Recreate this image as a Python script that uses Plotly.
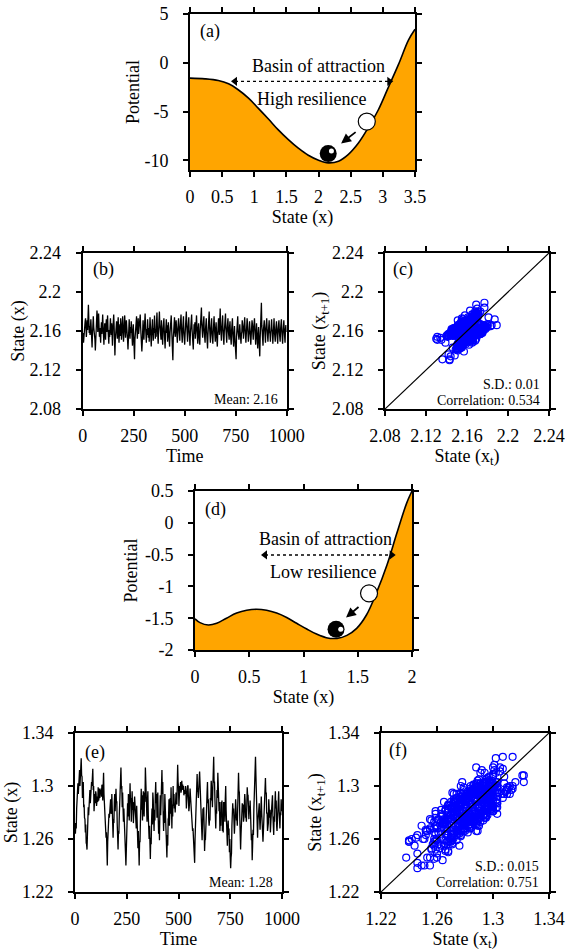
import plotly.graph_objects as go

W, H = 581, 952
FONT = "Liberation Serif, Times New Roman, Times, serif"
ORANGE = "#FFA500"
BLUE = "#0000FF"

# ---------------- data ----------------
# (a) potential, high resilience
pot_a_x = [0, 0.233, 0.44, 0.60, 0.75, 0.91, 1.06, 1.22, 1.37, 1.53, 1.68, 1.84, 2.00,
           2.15, 2.31, 2.46, 2.62, 2.77, 2.93, 3.08, 3.24, 3.40, 3.5]
pot_a_y = [-1.58, -1.65, -1.82, -2.16, -2.77, -3.63, -4.65, -5.77, -6.86, -7.89, -8.74, -9.49, -10.0,
           -10.27, -10.1, -9.42, -8.23, -6.69, -4.82, -2.6, -0.22, 2.34, 3.43]
# (d) potential, low resilience
pot_d_x = [0, 0.046, 0.123, 0.2, 0.29, 0.384, 0.476, 0.568, 0.66, 0.753, 0.845, 0.937, 1.03,
           1.12, 1.21, 1.31, 1.40, 1.49, 1.58, 1.67, 1.77, 1.86, 1.95, 2.0]
pot_d_y = [-1.51, -1.57, -1.607, -1.58, -1.50, -1.42, -1.376, -1.36, -1.376, -1.42, -1.49, -1.58, -1.67,
           -1.75, -1.806, -1.817, -1.77, -1.66, -1.45, -1.11, -0.66, -0.166, 0.306, 0.5]

# ball / arrow markers in the potential panels (data coords)
ball_a_black = [2.15, -9.32]
ball_a_white = [2.75, -6.03]
ball_a_shine = [2.20, -9.05]
arrow_a = [2.60, -7.0, 2.35, -8.27]          # tail x, tail y, head x, head y
basin_a = [0.70, 3.10, -1.9]                 # x0, x1, y
ball_d_black = [1.30, -1.675]
ball_d_white = [1.604, -1.109]
ball_d_shine = [1.343, -1.675]
arrow_d = [1.521, -1.303, 1.392, -1.49]
basin_d = [0.645, 1.813, -0.506]

# (b) time series, high resilience (every 2nd time step)
state_b = [
    2.150, 2.158, 2.148, 2.156, 2.167, 2.161, 2.170, 2.173, 2.163, 2.154, 2.162, 2.171, 2.161, 2.169, 2.187, 2.172, 2.158, 2.165, 2.156, 2.168,
    2.172, 2.162, 2.146, 2.143, 2.157, 2.166, 2.175, 2.164, 2.153, 2.161, 2.151, 2.140, 2.155, 2.168, 2.163, 2.181, 2.174, 2.159, 2.170, 2.178,
    2.165, 2.154, 2.163, 2.152, 2.148, 2.162, 2.169, 2.157, 2.166, 2.177, 2.164, 2.155, 2.146, 2.160, 2.168, 2.161, 2.151, 2.166, 2.172, 2.159,
    2.167, 2.176, 2.162, 2.153, 2.147, 2.161, 2.154, 2.164, 2.173, 2.163, 2.156, 2.168, 2.150, 2.145, 2.162, 2.171, 2.177, 2.165, 2.148, 2.135,
    2.151, 2.164, 2.157, 2.170, 2.161, 2.152, 2.166, 2.174, 2.158, 2.148, 2.157, 2.167, 2.155, 2.173, 2.166, 2.151, 2.162, 2.169, 2.175, 2.160,
    2.149, 2.157, 2.168, 2.176, 2.164, 2.153, 2.162, 2.171, 2.156, 2.165, 2.150, 2.141, 2.154, 2.163, 2.172, 2.159, 2.152, 2.164, 2.158, 2.170,
    2.163, 2.151, 2.145, 2.160, 2.167, 2.155, 2.143, 2.131, 2.151, 2.162, 2.154, 2.166, 2.175, 2.161, 2.152, 2.164, 2.173, 2.157, 2.165, 2.159,
    2.169, 2.177, 2.164, 2.152, 2.157, 2.139, 2.148, 2.163, 2.171, 2.158, 2.151, 2.161, 2.170, 2.178, 2.165, 2.154, 2.148, 2.162, 2.156, 2.172,
    2.166, 2.153, 2.163, 2.149, 2.161, 2.174, 2.165, 2.155, 2.144, 2.156, 2.167, 2.172, 2.159, 2.150, 2.163, 2.158, 2.176, 2.166, 2.152, 2.162,
    2.154, 2.169, 2.179, 2.164, 2.151, 2.147, 2.160, 2.168, 2.180, 2.167, 2.155, 2.163, 2.151, 2.171, 2.162, 2.153, 2.146, 2.161, 2.166, 2.173,
    2.160, 2.150, 2.142, 2.157, 2.165, 2.172, 2.158, 2.166, 2.149, 2.155, 2.169, 2.159, 2.152, 2.144, 2.158, 2.164, 2.171, 2.176, 2.163, 2.154,
    2.143, 2.130, 2.152, 2.162, 2.169, 2.174, 2.159, 2.154, 2.165, 2.171, 2.162, 2.156, 2.148, 2.161, 2.167, 2.173, 2.162, 2.155, 2.150, 2.164,
    2.169, 2.177, 2.163, 2.155, 2.148, 2.161, 2.168, 2.175, 2.158, 2.153, 2.146, 2.157, 2.165, 2.173, 2.180, 2.166, 2.156, 2.149, 2.162, 2.168,
    2.174, 2.159, 2.154, 2.145, 2.158, 2.166, 2.171, 2.177, 2.162, 2.155, 2.149, 2.141, 2.156, 2.167, 2.157, 2.169, 2.152, 2.161, 2.170, 2.176,
    2.162, 2.153, 2.147, 2.163, 2.168, 2.156, 2.151, 2.146, 2.161, 2.170, 2.177, 2.184, 2.166, 2.157, 2.153, 2.165, 2.170, 2.175, 2.159, 2.155,
    2.148, 2.162, 2.168, 2.173, 2.158, 2.152, 2.142, 2.156, 2.165, 2.171, 2.180, 2.164, 2.154, 2.148, 2.161, 2.169, 2.173, 2.157, 2.153, 2.147,
    2.159, 2.166, 2.175, 2.162, 2.155, 2.149, 2.163, 2.169, 2.157, 2.152, 2.144, 2.158, 2.167, 2.173, 2.161, 2.156, 2.170, 2.183, 2.165, 2.157,
    2.150, 2.163, 2.168, 2.176, 2.161, 2.153, 2.146, 2.159, 2.165, 2.171, 2.178, 2.162, 2.156, 2.148, 2.162, 2.166, 2.173, 2.160, 2.154, 2.151,
    2.164, 2.170, 2.158, 2.154, 2.146, 2.161, 2.168, 2.173, 2.157, 2.151, 2.144, 2.158, 2.165, 2.153, 2.142, 2.136, 2.131, 2.154, 2.163, 2.170,
    2.175, 2.159, 2.156, 2.151, 2.158, 2.167, 2.159, 2.153, 2.147, 2.157, 2.159, 2.171, 2.168, 2.163, 2.152, 2.158, 2.165, 2.174, 2.163, 2.156,
    2.148, 2.157, 2.162, 2.173, 2.167, 2.157, 2.149, 2.156, 2.159, 2.170, 2.163, 2.156, 2.146, 2.155, 2.162, 2.171, 2.167, 2.158, 2.151, 2.162,
    2.168, 2.173, 2.162, 2.155, 2.146, 2.158, 2.168, 2.158, 2.151, 2.142, 2.155, 2.164, 2.154, 2.144, 2.134, 2.153, 2.165, 2.177, 2.189, 2.166,
    2.160, 2.151, 2.145, 2.161, 2.168, 2.171, 2.162, 2.155, 2.148, 2.162, 2.168, 2.173, 2.162, 2.158, 2.149, 2.158, 2.163, 2.171, 2.159, 2.157,
    2.149, 2.159, 2.165, 2.172, 2.162, 2.159, 2.147, 2.156, 2.168, 2.173, 2.159, 2.156, 2.149, 2.161, 2.167, 2.170, 2.158, 2.152, 2.147, 2.162,
    2.166, 2.171, 2.159, 2.155, 2.149, 2.162, 2.167, 2.172, 2.160, 2.153, 2.147, 2.159, 2.165, 2.171, 2.160, 2.155, 2.148, 2.162, 2.166, 2.159,
]

# (e) time series, low resilience (every 2nd time step)
state_e = [
    1.272, 1.264, 1.272, 1.268, 1.283, 1.291, 1.291, 1.302, 1.294, 1.302, 1.301, 1.312, 1.300, 1.308, 1.302, 1.321, 1.308, 1.307, 1.291, 1.302,
    1.303, 1.284, 1.286, 1.276, 1.275, 1.265, 1.271, 1.257, 1.256, 1.252, 1.267, 1.271, 1.284, 1.278, 1.293, 1.290, 1.297, 1.287, 1.297, 1.297,
    1.303, 1.300, 1.307, 1.313, 1.297, 1.300, 1.281, 1.286, 1.294, 1.287, 1.296, 1.294, 1.285, 1.292, 1.292, 1.288, 1.299, 1.289, 1.291, 1.298,
    1.291, 1.297, 1.294, 1.298, 1.292, 1.301, 1.300, 1.289, 1.302, 1.310, 1.294, 1.287, 1.273, 1.277, 1.263, 1.261, 1.265, 1.255, 1.240, 1.258,
    1.268, 1.263, 1.279, 1.276, 1.287, 1.279, 1.290, 1.279, 1.281, 1.294, 1.279, 1.272, 1.261, 1.275, 1.272, 1.288, 1.294, 1.281, 1.292, 1.298,
    1.288, 1.288, 1.271, 1.259, 1.252, 1.266, 1.264, 1.278, 1.292, 1.290, 1.305, 1.314, 1.298, 1.300, 1.284, 1.295, 1.284, 1.273, 1.283, 1.269,
    1.258, 1.260, 1.249, 1.240, 1.259, 1.259, 1.276, 1.287, 1.277, 1.294, 1.287, 1.274, 1.288, 1.302, 1.288, 1.291, 1.273, 1.285, 1.296, 1.282,
    1.288, 1.272, 1.283, 1.276, 1.292, 1.286, 1.273, 1.279, 1.268, 1.285, 1.277, 1.262, 1.253, 1.266, 1.251, 1.240, 1.258, 1.258, 1.273, 1.284,
    1.298, 1.282, 1.293, 1.274, 1.284, 1.296, 1.284, 1.277, 1.295, 1.288, 1.314, 1.300, 1.302, 1.283, 1.273, 1.288, 1.296, 1.278, 1.270, 1.260,
    1.270, 1.258, 1.245, 1.261, 1.256, 1.274, 1.283, 1.271, 1.295, 1.289, 1.275, 1.266, 1.282, 1.274, 1.294, 1.303, 1.287, 1.294, 1.276, 1.288,
    1.295, 1.276, 1.264, 1.274, 1.259, 1.281, 1.293, 1.278, 1.303, 1.292, 1.312, 1.294, 1.303, 1.279, 1.266, 1.281, 1.272, 1.294, 1.285, 1.271,
    1.256, 1.253, 1.246, 1.263, 1.255, 1.275, 1.276, 1.290, 1.270, 1.279, 1.291, 1.279, 1.299, 1.283, 1.268, 1.286, 1.277, 1.300, 1.285, 1.294,
    1.283, 1.286, 1.280, 1.292, 1.295, 1.292, 1.286, 1.301, 1.316, 1.303, 1.299, 1.285, 1.297, 1.300, 1.298, 1.303, 1.295, 1.297, 1.304, 1.297,
    1.301, 1.299, 1.300, 1.293, 1.297, 1.297, 1.294, 1.300, 1.297, 1.283, 1.293, 1.289, 1.300, 1.300, 1.281, 1.281, 1.284, 1.293, 1.298, 1.292,
    1.286, 1.276, 1.279, 1.267, 1.266, 1.268, 1.258, 1.255, 1.246, 1.242, 1.260, 1.268, 1.285, 1.286, 1.300, 1.309, 1.296, 1.296, 1.291, 1.295,
    1.305, 1.311, 1.299, 1.295, 1.278, 1.275, 1.264, 1.259, 1.270, 1.283, 1.280, 1.284, 1.268, 1.251, 1.260, 1.259, 1.279, 1.276, 1.285, 1.295,
    1.303, 1.287, 1.290, 1.275, 1.270, 1.275, 1.274, 1.291, 1.289, 1.304, 1.295, 1.300, 1.284, 1.300, 1.314, 1.322, 1.303, 1.303, 1.290, 1.280,
    1.268, 1.282, 1.279, 1.297, 1.291, 1.310, 1.299, 1.300, 1.281, 1.288, 1.266, 1.273, 1.270, 1.288, 1.280, 1.289, 1.266, 1.271, 1.265, 1.288,
    1.278, 1.288, 1.273, 1.290, 1.300, 1.282, 1.270, 1.276, 1.255, 1.268, 1.274, 1.263, 1.268, 1.250, 1.260, 1.246, 1.238, 1.246, 1.249, 1.270,
    1.278, 1.287, 1.281, 1.283, 1.271, 1.264, 1.271, 1.280, 1.290, 1.283, 1.274, 1.276, 1.270, 1.284, 1.294, 1.310, 1.297, 1.295, 1.277, 1.266,
    1.252, 1.263, 1.269, 1.277, 1.287, 1.284, 1.286, 1.273, 1.276, 1.285, 1.294, 1.289, 1.276, 1.277, 1.273, 1.287, 1.299, 1.293, 1.293, 1.281,
    1.275, 1.285, 1.281, 1.289, 1.274, 1.266, 1.259, 1.264, 1.244, 1.255, 1.267, 1.263, 1.282, 1.296, 1.297, 1.307, 1.322, 1.308, 1.294, 1.283,
    1.271, 1.261, 1.274, 1.281, 1.278, 1.287, 1.275, 1.267, 1.275, 1.283, 1.292, 1.280, 1.274, 1.267, 1.258, 1.265, 1.275, 1.286, 1.283, 1.296,
    1.306, 1.294, 1.295, 1.279, 1.280, 1.266, 1.272, 1.272, 1.290, 1.284, 1.276, 1.282, 1.265, 1.272, 1.278, 1.289, 1.284, 1.293, 1.278, 1.270,
    1.263, 1.277, 1.273, 1.288, 1.296, 1.283, 1.289, 1.270, 1.266, 1.274, 1.281, 1.289, 1.296, 1.282, 1.277, 1.268, 1.280, 1.278, 1.290, 1.281,
]
time_step = 2
time_b = [i * time_step for i in range(len(state_b))]
time_e = [i * time_step for i in range(len(state_e))]

# ticks
ticks_a_x = [0, 0.5, 1, 1.5, 2, 2.5, 3, 3.5]
ticks_a_x_text = ["0", "0.5", "1", "1.5", "2", "2.5", "3", "3.5"]
ticks_a_y = [-10, -5, 0, 5]
ticks_a_y_text = ["-10", "-5", "0", "5"]
ticks_time = [0, 250, 500, 750, 1000]
ticks_time_text = ["0", "250", "500", "750", "1000"]
ticks_b = [2.08, 2.12, 2.16, 2.2, 2.24]
ticks_b_text = ["2.08", "2.12", "2.16", "2.2", "2.24"]
ticks_d_x = [0, 0.5, 1, 1.5, 2]
ticks_d_x_text = ["0", "0.5", "1", "1.5", "2"]
ticks_d_y = [-2, -1.5, -1, -0.5, 0, 0.5]
ticks_d_y_text = ["-2", "-1.5", "-1", "-0.5", "0", "0.5"]
ticks_e = [1.22, 1.26, 1.3, 1.34]
ticks_e_text = ["1.22", "1.26", "1.3", "1.34"]

range_a_x, range_a_y = [0, 3.5], [-11, 5]
range_time = [0, 1000]
range_b = [2.08, 2.24]
range_d_x, range_d_y = [0, 2], [-2, 0.5]
range_e = [1.22, 1.34]

# ---------------- layout helpers ----------------
def dx(p0, p1):
    return [p0 / W, p1 / W]

def dy(top, bottom):
    return [1 - bottom / H, 1 - top / H]

def axis(dom, rng, tv, tt, title, standoff, anchor, lab_off):
    return dict(
        domain=dom, range=rng, tickvals=tv, ticktext=tt, anchor=anchor,
        showline=True, linecolor="black", linewidth=2, mirror="ticks",
        ticks="outside", ticklen=5, tickwidth=1.5, tickcolor="black",
        showgrid=False, zeroline=False, automargin=False,
        tickfont=dict(family=FONT, size=18, color="black"),
        ticklabelstandoff=lab_off,
        title=dict(text=title, font=dict(family=FONT, size=18, color="black"), standoff=standoff),
    )

def xax(dom, rng, tv, tt, title, anchor):
    return axis(dom, rng, tv, tt, title, 4, anchor, 4)

def yax(dom, rng, tv, tt, title, anchor, standoff=0):
    return axis(dom, rng, tv, tt, title, standoff, anchor, 11)

fig = go.Figure()

def potential(xs, ys, ymin, xa, ya):
    fig.add_trace(go.Scatter(x=[xs[0], xs[-1]], y=[ymin, ymin], mode="lines",
                             line=dict(width=0, color=ORANGE), xaxis=xa, yaxis=ya,
                             showlegend=False, hoverinfo="skip"))
    fig.add_trace(go.Scatter(x=xs, y=ys, mode="lines", fill="tonexty", fillcolor=ORANGE,
                             line=dict(color="black", width=1.6, shape="spline", smoothing=1.0),
                             xaxis=xa, yaxis=ya, showlegend=False))

def balls(black, white, shine, basin, xa, ya):
    fig.add_trace(go.Scatter(x=[basin[0], basin[1]], y=[basin[2], basin[2]], mode="lines+markers",
                             line=dict(color="black", width=1.3, dash="dot"),
                             marker=dict(symbol=["triangle-left", "triangle-right"], size=8, color="black"),
                             xaxis=xa, yaxis=ya, showlegend=False))
    fig.add_trace(go.Scatter(x=[white[0]], y=[white[1]], mode="markers",
                             marker=dict(size=17, color="white", line=dict(color="black", width=1.2)),
                             xaxis=xa, yaxis=ya, showlegend=False))
    fig.add_trace(go.Scatter(x=[black[0]], y=[black[1]], mode="markers",
                             marker=dict(size=17, color="black"),
                             xaxis=xa, yaxis=ya, showlegend=False))
    fig.add_trace(go.Scatter(x=[shine[0]], y=[shine[1]], mode="markers",
                             marker=dict(size=5, color="white"),
                             xaxis=xa, yaxis=ya, showlegend=False))

# (a)
potential(pot_a_x, pot_a_y, range_a_y[0], "x", "y")
balls(ball_a_black, ball_a_white, ball_a_shine, basin_a, "x", "y")
# (d)
potential(pot_d_x, pot_d_y, range_d_y[0], "x4", "y4")
balls(ball_d_black, ball_d_white, ball_d_shine, basin_d, "x4", "y4")

# (b), (e) time series
fig.add_trace(go.Scatter(x=time_b, y=state_b, mode="lines", line=dict(color="black", width=1.3),
                         xaxis="x2", yaxis="y2", showlegend=False))
fig.add_trace(go.Scatter(x=time_e, y=state_e, mode="lines", line=dict(color="black", width=1.3),
                         xaxis="x5", yaxis="y5", showlegend=False))

# (c), (f) lag plots
for series, rng, xa, ya in [(state_b, range_b, "x3", "y3"), (state_e, range_e, "x6", "y6")]:
    fig.add_trace(go.Scatter(x=series[:-1], y=series[1:], mode="markers",
                             marker=dict(symbol="circle-open", size=7, color=BLUE, line=dict(width=1.2, color=BLUE)),
                             xaxis=xa, yaxis=ya, showlegend=False))
    fig.add_trace(go.Scatter(x=rng, y=rng, mode="lines", line=dict(color="black", width=1.2),
                             xaxis=xa, yaxis=ya, showlegend=False))

sub1 = "State (x<sub>t+1</sub>)"
sub0 = "State (x<sub>t</sub>)"

layout = dict(
    width=W, height=H, margin=dict(l=0, r=0, t=0, b=0, pad=0),
    paper_bgcolor="white", plot_bgcolor="white", template="none", showlegend=False,
    font=dict(family=FONT, size=18, color="black"),
    xaxis=xax(dx(190, 415), range_a_x, ticks_a_x, ticks_a_x_text, "State (x)", "y"),
    yaxis=yax(dy(14, 170), range_a_y, ticks_a_y, ticks_a_y_text, "Potential", "x"),
    xaxis2=xax(dx(82.7, 286.7), range_time, ticks_time, ticks_time_text, "Time", "y2"),
    yaxis2=yax(dy(253, 409), range_b, ticks_b, ticks_b_text, "State (x)", "x2"),
    xaxis3=xax(dx(385, 549), range_b, ticks_b, ticks_b_text, sub0, "y3"),
    yaxis3=yax(dy(253, 409), range_b, ticks_b, ticks_b_text, sub1, "x3"),
    xaxis4=xax(dx(195, 412), range_d_x, ticks_d_x, ticks_d_x_text, "State (x)", "y4"),
    yaxis4=yax(dy(491, 650), range_d_y, ticks_d_y, ticks_d_y_text, "Potential", "x4", 3),
    xaxis5=xax(dx(75, 282), range_time, ticks_time, ticks_time_text, "Time", "y5"),
    yaxis5=yax(dy(733, 892), range_e, ticks_e, ticks_e_text, "State (x)", "x5"),
    xaxis6=xax(dx(381, 549), range_e, ticks_e, ticks_e_text, sub0, "y6"),
    yaxis6=yax(dy(733, 892), range_e, ticks_e, ticks_e_text, sub1, "x6"),
)
fig.update_layout(**layout)

ann = []
def ptext(text, x, y, size=18, xanchor="center"):
    ann.append(dict(text=text, x=x / W, y=1 - y / H, xref="paper", yref="paper", showarrow=False,
                    xanchor=xanchor, yanchor="middle", font=dict(family=FONT, size=size, color="black")))

ptext("(a)", 210, 32)
ptext("(b)", 103.3, 269.3)
ptext("(c)", 402.7, 269.3)
ptext("(d)", 215, 509.3)
ptext("(e)", 95, 752)
ptext("(f)", 398.3, 750.7)
ptext("Mean: 2.16", 280, 399.3, 14, "right")
ptext("Mean: 1.28", 275, 882.7, 14, "right")
ptext("S.D.: 0.01", 541.7, 384, 14, "right")
ptext("Correlation: 0.534", 541.7, 400, 14, "right")
ptext("S.D.: 0.015", 540.7, 866, 14, "right")
ptext("Correlation: 0.751", 540.7, 882.7, 14, "right")

def dtext(text, x, y, xa, ya):
    ann.append(dict(text=text, x=x, y=y, xref=xa, yref=ya, showarrow=False,
                    font=dict(family=FONT, size=18, color="black")))

dtext("Basin of attraction", 2.0, -0.31, "x", "y")
dtext("High resilience", 1.89, -3.7, "x", "y")
dtext("Basin of attraction", 1.207, -0.26, "x4", "y4")
dtext("Low resilience", 1.183, -0.78, "x4", "y4")

for arr, xa, ya in [(arrow_a, "x", "y"), (arrow_d, "x4", "y4")]:
    ann.append(dict(x=arr[2], y=arr[3], ax=arr[0], ay=arr[1], xref=xa, yref=ya, axref=xa, ayref=ya,
                    text="", showarrow=True, arrowhead=2, arrowsize=1.1, arrowwidth=1.8, arrowcolor="black"))

fig.update_layout(annotations=ann)
fig.write_html("out.html", config={"displayModeBar": False},
               post_script="document.body.style.margin='0';document.body.style.overflow='hidden';")
